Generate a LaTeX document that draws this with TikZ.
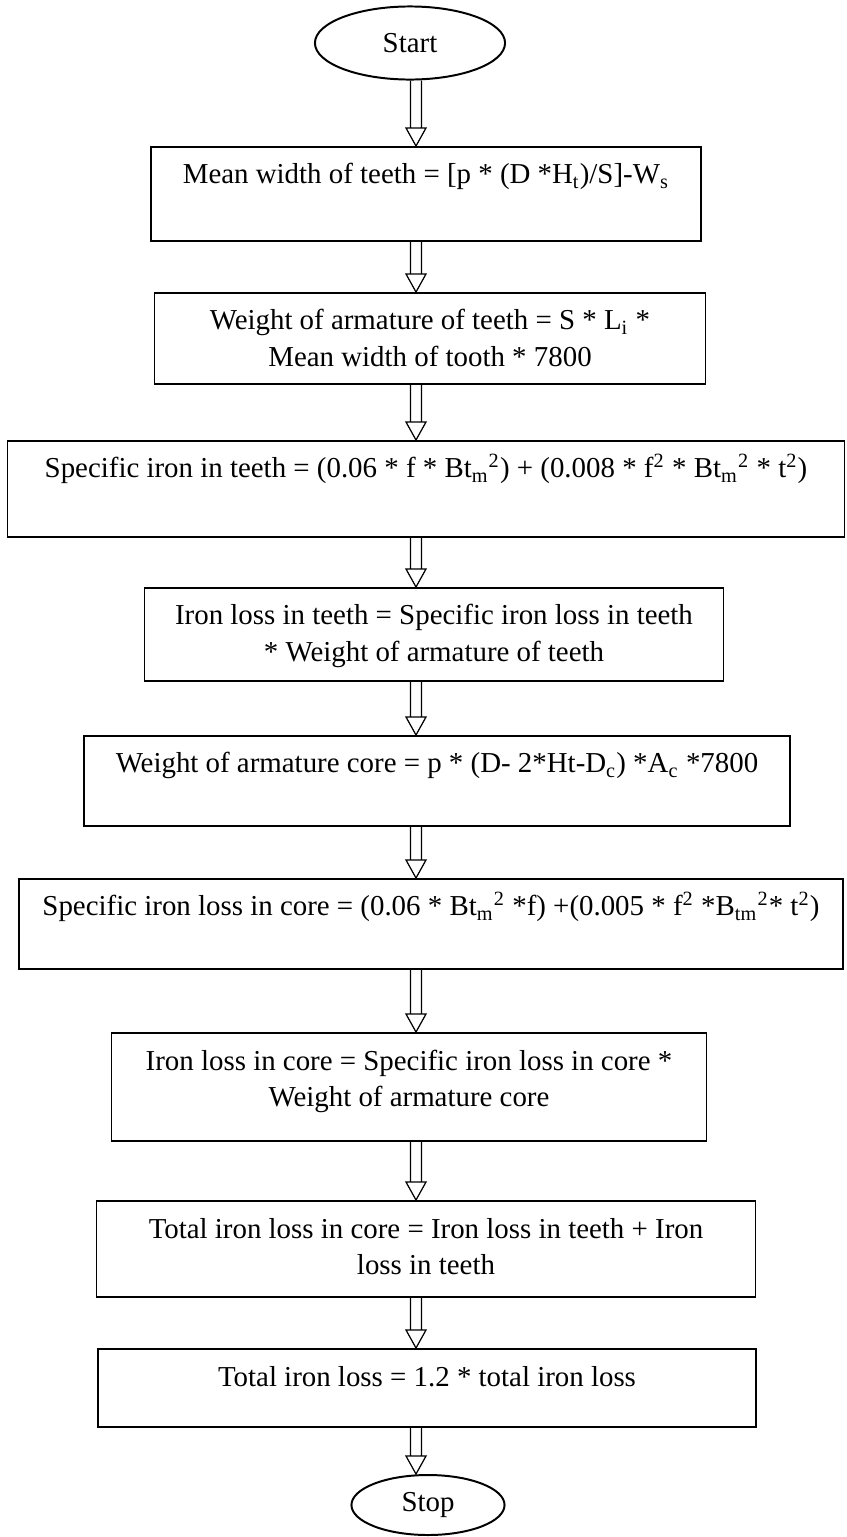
\documentclass[tikz,border=0pt]{standalone}
\usepackage{fontspec}
\setmainfont{Liberation Serif}
\usetikzlibrary{shapes.geometric,calc}

\newlength{\pxu}
\setlength{\pxu}{0.405pt}
% box body: width, height (in picture units), text hung from the top
\newcommand{\boxtext}[3]{\parbox[c][#2\pxu][t]{#1\pxu}{\centering\rule{0pt}{37\pxu}#3}}

\begin{document}
\begin{tikzpicture}[
  x=0.405pt, y=-0.405pt,
  font=\fontsize{11.7pt}{14.6pt}\selectfont,
  box/.style={draw,rectangle,inner sep=0pt,line width=0.8pt,anchor=north},
  term/.style={draw,ellipse,inner sep=0pt,line width=0.8pt},
  dblarrow/.style={line width=0.5pt,to path={
    ($(\tikztostart)+(-5.5,0)$) -- ($(\tikztotarget)+(-5.5,-18)$)
    ($(\tikztostart)+(5.5,0)$) -- ($(\tikztotarget)+(5.5,-18)$)
    ($(\tikztotarget)+(-10,-18)$) -- (\tikztotarget) -- ($(\tikztotarget)+(10,-18)$) -- cycle}}
]
  \useasboundingbox (0,0) rectangle (847,1537);

  \node[term,minimum width=77pt,minimum height=29.6pt] (start) at (410,43) {Start};

  % Teeth
  \node[box] (b1) at (426,146) {\boxtext{550}{94}{Mean width of teeth = [p * (D *H\textsubscript{t})/S]-W\textsubscript{s}}};
  \node[box] (b2) at (430,292) {\boxtext{551}{91}{Weight of armature of teeth = S * L\textsubscript{i} *\\ Mean width of tooth * 7800}};
  \node[box] (b3) at (426,440) {\boxtext{837}{96}{Specific iron in teeth = (0.06 * f * Bt\textsubscript{m}\textsuperscript{2}) + (0.008 * f\textsuperscript{2} * Bt\textsubscript{m}\textsuperscript{2} * t\textsuperscript{2})}};
  \node[box] (b4) at (434,587) {\boxtext{579}{93}{Iron loss in teeth = Specific iron loss in teeth\\{}* Weight of armature of teeth}};

  % Core
  \node[box] (b5) at (437,735) {\boxtext{706}{90}{Weight of armature core = p * (D- 2*Ht-D\textsubscript{c}) *A\textsubscript{c} *7800}};
  \node[box] (b6) at (431,878) {\boxtext{824}{90}{Specific iron loss in core = (0.06 * Bt\textsubscript{m}\textsuperscript{2} *f) +(0.005 * f\textsuperscript{2} *B\textsubscript{tm}\textsuperscript{2}* t\textsuperscript{2})}};
  \node[box] (b7) at (409,1032) {\boxtext{595}{108}{Iron loss in core = Specific iron loss in core *\\ Weight of armature core}};

  % Totals
  \node[box] (b8) at (426,1200) {\boxtext{659}{96}{Total iron loss in core = Iron loss in teeth + Iron\\ loss in teeth}};
  \node[box] (b9) at (427,1348) {\boxtext{658}{78}{Total iron loss = 1.2 * total iron loss}};

  \node[term,minimum width=62pt,minimum height=24.3pt] (stop) at (428,1505) {Stop};

  % Hollow arrows down the middle
  \coordinate (spine) at (416,0);
  \draw[dblarrow] (start.south -| spine) to (b1.north -| spine);
  \foreach \a/\b in {b1/b2,b2/b3,b3/b4,b4/b5,b5/b6,b6/b7,b7/b8,b8/b9,b9/stop}
    \draw[dblarrow] (\a.south -| spine) to (\b.north -| spine);
\end{tikzpicture}
\end{document}
